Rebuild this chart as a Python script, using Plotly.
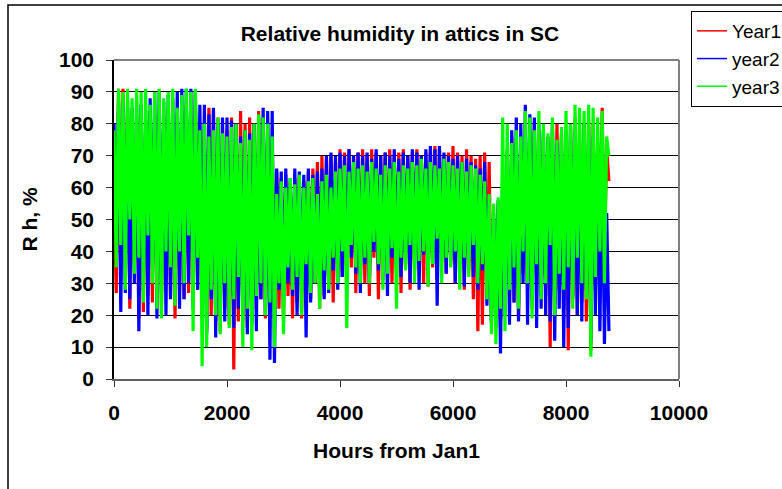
import plotly.graph_objects as go

hour_step = 40
hours = list(range(0, 8761, hour_step))

year1 = [
    60, 27, 91, 30, 91, 40, 85, 22, 80, 35,
    82, 19, 86, 21, 80, 26, 84, 24, 83, 30,
    85, 20, 82, 30, 84, 26, 80, 19, 83, 28,
    84, 25, 86, 27, 82, 33, 90, 28, 78, 20,
    80, 15, 85, 20, 84, 18, 82, 15, 80, 22,
    78, 17, 82, 3, 80, 18, 84, 20, 80, 16,
    82, 18, 80, 22, 84, 25, 82, 19, 80, 28,
    74, 20, 65, 22, 63, 18, 64, 26, 62, 19,
    63, 24, 64, 19, 62, 28, 65, 25, 66, 30,
    68, 22, 70, 26, 69, 30, 70, 24, 68, 33,
    72, 32, 71, 28, 72, 35, 70, 27, 71, 33,
    72, 30, 70, 26, 72, 38, 71, 25, 70, 32,
    71, 36, 72, 30, 70, 33, 71, 27, 72, 35,
    70, 28, 71, 34, 72, 38, 70, 30, 71, 29,
    72, 35, 73, 31, 72, 38, 70, 33, 71, 36,
    73, 30, 71, 37, 70, 28, 72, 34, 70, 25,
    69, 15, 70, 17, 71, 28, 68, 18, 50, 20,
    55, 18, 62, 26, 70, 30, 76, 24, 74, 20,
    72, 33, 80, 28, 78, 22, 80, 30, 78, 26,
    76, 26, 74, 10, 78, 24, 80, 28, 77, 22,
    75, 9, 79, 26, 82, 20, 78, 24, 80, 18,
    82, 9, 80, 28, 76, 30, 85, 40, 72, 62,
]

year2 = [
    80, 44, 87, 21, 86, 27, 87, 25, 85, 30,
    87, 15, 86, 28, 84, 20, 88, 35, 90, 19,
    90, 27, 87, 20, 89, 25, 88, 30, 90, 22,
    91, 25, 91, 30, 91, 22, 90, 28, 86, 20,
    86, 14, 83, 25, 85, 13, 80, 20, 82, 18,
    82, 20, 81, 16, 80, 22, 76, 18, 78, 14,
    77, 17, 80, 15, 82, 25, 85, 20, 84, 6,
    84, 5, 66, 28, 65, 24, 66, 30, 63, 26,
    66, 20, 65, 27, 64, 13, 66, 24, 64, 30,
    65, 30, 66, 25, 70, 27, 71, 34, 70, 28,
    71, 32, 70, 29, 72, 38, 70, 33, 71, 27,
    70, 36, 71, 30, 69, 40, 72, 34, 70, 31,
    71, 26, 70, 38, 72, 35, 69, 32, 71, 36,
    70, 30, 72, 37, 71, 28, 70, 39, 72, 34,
    73, 36, 72, 23, 73, 38, 71, 33, 70, 37,
    69, 30, 70, 36, 68, 29, 69, 37, 68, 32,
    67, 28, 66, 34, 68, 23, 56, 18, 52, 16,
    56, 8, 60, 20, 72, 17, 78, 24, 82, 18,
    80, 30, 86, 17, 83, 25, 82, 16, 80, 22,
    78, 20, 76, 18, 80, 12, 74, 22, 76, 10,
    78, 16, 80, 25, 78, 20, 75, 18, 80, 28,
    79, 12, 76, 20, 74, 15, 70, 11, 52, 15,
]

year3 = [
    78, 35, 91, 42, 90, 28, 91, 50, 88, 33,
    91, 38, 90, 24, 91, 45, 86, 30, 90, 22,
    91, 19, 88, 40, 90, 35, 91, 23, 85, 40,
    89, 30, 91, 45, 90, 15, 91, 38, 78, 4,
    80, 10, 76, 28, 78, 20, 82, 14, 77, 30,
    76, 16, 79, 25, 80, 32, 74, 10, 78, 22,
    75, 9, 80, 26, 83, 30, 82, 20, 80, 24,
    76, 10, 58, 30, 62, 14, 60, 35, 63, 28,
    61, 32, 64, 20, 60, 36, 62, 27, 63, 30,
    58, 22, 62, 34, 64, 28, 60, 38, 65, 30,
    66, 40, 67, 16, 65, 42, 68, 35, 66, 30,
    67, 38, 65, 30, 68, 43, 66, 36, 64, 28,
    67, 33, 66, 41, 68, 22, 65, 38, 67, 34,
    66, 42, 68, 30, 67, 37, 69, 40, 66, 29,
    68, 36, 67, 44, 66, 30, 69, 38, 68, 35,
    67, 40, 66, 28, 68, 38, 65, 32, 67, 42,
    66, 30, 64, 36, 62, 25, 58, 14, 55, 11,
    57, 22, 82, 15, 80, 28, 74, 35, 78, 22,
    76, 40, 84, 30, 82, 19, 78, 36, 84, 25,
    80, 30, 77, 42, 82, 20, 75, 33, 79, 28,
    84, 35, 80, 22, 86, 38, 85, 30, 84, 25,
    86, 7, 85, 32, 82, 40, 84, 30, 76, 70,
]

series_names = ["Year1", "year2", "year3"]
series_colors = ["#FF0000", "#0000FF", "#00FF00"]
x_ticks = [0, 2000, 4000, 6000, 8000, 10000]
y_ticks = [0, 10, 20, 30, 40, 50, 60, 70, 80, 90, 100]

FONT = "Liberation Sans, Arial, sans-serif"

fig = go.Figure()
for name, vals, col in zip(series_names, [year1, year2, year3], series_colors):
    fig.add_trace(go.Scatter(x=hours, y=vals, mode="lines", name=name,
                             line=dict(color=col, width=3.2), showlegend=False,
                             legendgroup=name))
# legend entries with the thin line sample seen in the reference legend
for name, col in zip(series_names, series_colors):
    fig.add_trace(go.Scatter(x=[None], y=[None], mode="lines", name=name,
                             line=dict(color=col, width=1.5), legendgroup=name))

W, H = 782, 489
L, R, T, B = 114, 679, 60, 379
pw, ph = R - L, B - T

def px(xp):
    return (xp - L) / pw

def py(yp):
    return (B - yp) / ph

fig.update_layout(
    width=W, height=H,
    margin=dict(l=L, r=W - R, t=T, b=H - B, pad=0, autoexpand=False),
    paper_bgcolor="white", plot_bgcolor="white",
    font=dict(family=FONT, color="black"),
    title=dict(text="<b>Relative humidity in attics in SC</b>",
               font=dict(size=21, family=FONT),
               x=400 / W, xref="container", xanchor="center",
               y=1 - 34 / H, yref="container", yanchor="middle"),
    showlegend=True,
    legend=dict(x=px(691), y=py(11), xanchor="left", yanchor="top",
                bordercolor="black", borderwidth=1, bgcolor="white",
                font=dict(size=19, family=FONT), itemwidth=30,
                tracegroupgap=0),
    xaxis=dict(range=[0, 10000], tickvals=x_ticks,
               ticktext=[str(v) for v in x_ticks],
               showgrid=False, zeroline=False,
               showline=True, linecolor="#606060", linewidth=2,
               ticks="outside", ticklen=6, tickcolor="#303030", tickwidth=1,
               tickfont=dict(size=21, family=FONT, weight="bold"),
               ticklabelstandoff=8,
               title=dict(text="<b>Hours from Jan1</b>", font=dict(size=21, family=FONT),
                          standoff=20)),
    yaxis=dict(range=[0, 100], tickvals=y_ticks,
               showgrid=True, gridcolor="black", gridwidth=1, zeroline=False,
               showline=True, linecolor="black", linewidth=1.5,
               ticks="outside", ticklen=6, tickcolor="#303030", tickwidth=1,
               tickfont=dict(size=21, family=FONT, weight="bold"),
               ticklabelstandoff=8,
               title=dict(text="<b>R h, %</b>", font=dict(size=21, family=FONT),
                          standoff=16)),
    shapes=[
        dict(type="line", xref="paper", yref="paper", x0=0, x1=1, y0=1, y1=1,
             line=dict(color="#808080", width=2)),
        dict(type="line", xref="paper", yref="paper", x0=1, x1=1, y0=0, y1=1,
             line=dict(color="#808080", width=2)),
        dict(type="rect", xref="paper", yref="paper",
             x0=px(8), x1=px(800), y0=py(5), y1=py(500),
             line=dict(color="black", width=1.5), layer="below"),
    ],
)

fig.write_html(
    "out.html",
    config={"displayModeBar": False},
    post_script="document.body.style.margin='0px';document.body.style.overflow='hidden';",
)
